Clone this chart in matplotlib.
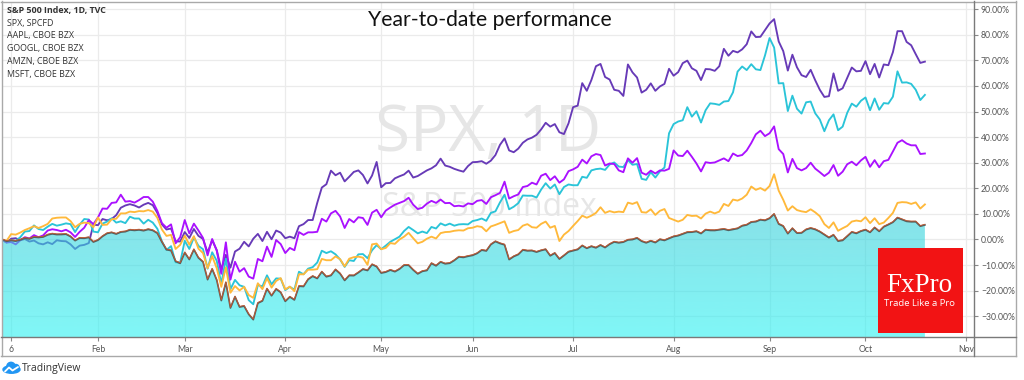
import numpy as np
import matplotlib
matplotlib.use("Agg")
import matplotlib.pyplot as plt
from matplotlib.lines import Line2D
from matplotlib.patches import Rectangle, Circle, Ellipse
import matplotlib.transforms as mtransforms

# ---------------- data (YTD % change, one value per trading day from Jan 2) -------------
spx = [0, -0.71, -0.36, -0.63, -0.15, 0.52, 0.23, 0.93, 0.78, 0.97, 1.81, 2.20, 1.93, 1.96, 2.08, 1.15, -0.44, 0.56, 0.48, 0.79, -0.99,
       -0.27, 1.22, 2.36, 2.70, 2.14, 2.89, 3.07, 3.73, 3.56, 3.75, 3.45, 3.94, 3.54, 2.45, -0.98, -3.98, -4.34, -8.57, -9.32,
       -5.14, -7.81, -3.92, -7.18, -8.76, -15.69, -11.53, -15.85, -23.86, -16.79, -26.76, -22.37, -26.39, -26.04, -29.25, -31.32, -24.88, -24.01, -19.27, -21.99, -19.37, -20.67,
       -24.17, -22.44, -23.61, -18.24, -18.37, -15.59, -14.37, -15.23, -12.64, -14.56, -14.07, -11.77, -13.34, -16.00, -14.07, -14.12, -12.93, -11.64, -12.11, -9.77, -10.60,
       -13.11, -12.74, -11.95, -12.57, -11.56, -10.07, -10.06, -11.90, -13.44, -12.44, -12.10, -9.33, -10.28, -8.79, -9.49, -9.28, -8.17, -6.80, -7.00, -6.55,
       -6.20, -5.43, -4.14, -4.47, -1.96, -0.78, -1.55, -2.08, -7.85, -6.65, -5.87, -4.09, -4.43, -4.37, -4.91, -4.30, -3.88, -6.37, -5.34, -7.64, -6.28, -4.84,
       -4.36, -3.92, -2.40, -3.45, -2.70, -3.25, -2.23, -3.15, -1.85, -0.96, -1.30, -1.02, -0.18, -0.02, 0.56, -0.68, -1.30, -0.57, -1.21, 0.02, -0.36, 0.41,
       1.13, 1.49, 2.15, 2.80, 2.87, 3.15, 2.33, 3.76, 3.55, 3.53, 3.81, 4.05, 3.59, 3.92, 4.28, 5.32, 5.70, 6.78, 6.96, 7.68, 7.44,
       8.25, 9.92, 6.05, 5.19, 2.27, 4.33, 2.50, 2.55, 3.86, 4.40, 3.92, 3.04, 1.89, 0.71, 1.77, -0.64, -0.35, 1.25, 2.88, 2.38, 3.23,
       3.77, 2.78, 4.63, 3.17, 4.96, 5.80, 6.73, 8.48, 7.80, 7.09, 6.92, 6.94, 5.19, 5.69]

aapl = [0, -1.0, -0.2, -0.6, 0.9, 3.1, 3.3, 5.5, 4.1, 3.7, 5.0, 6.1, 5.4, 5.8, 6.3, 6.0, 2.9, 5.8, 8.0, 7.8, 3.1,
        2.8, 6.2, 7.0, 8.3, 6.6, 7.1, 6.4, 8.9, 8.2, 8.2, 6.2, 7.7, 6.6, 4.2, -0.7, -4.1, -2.6, -8.9, -9.0,
        -0.5, -3.7, 0.8, -2.5, -3.8, -11.4, -5.0, -8.3, -17.3, -7.5, -19.4, -15.8, -17.9, -18.5, -23.7, -25.3, -17.8, -18.3, -14.0, -17.5, -15.2, -15.3,
        -19.8, -18.5, -19.6, -12.6, -13.6, -11.4, -10.8, -9.0, -4.4, -5.3, -4.6, -5.8, -7.8, -10.7, -8.1, -8.4, -5.8, -5.7, -7.3, -4.2, -2.2,
        -3.8, -2.4, -0.9, 0.1, 1.1, 3.3, 4.9, 3.7, 2.4, 3.1, 2.5, 4.9, 4.3, 6.3, 5.5, 6.2, 5.4, 5.9, 6.0, 5.9,
        7.2, 7.6, 8.2, 7.3, 10.4, 11.0, 14.5, 17.5, 11.8, 12.8, 14.2, 17.2, 17.1, 17.1, 16.4, 19.5, 22.0, 19.9, 21.5, 17.7, 20.5, 21.5,
        21.2, 21.2, 24.5, 24.1, 27.0, 27.5, 27.7, 27.2, 29.3, 30.1, 28.5, 28.3, 31.0, 29.2, 29.5, 23.7, 23.3, 26.3, 24.2, 26.6, 28.1, 41.5,
        45.1, 46.1, 46.6, 51.7, 48.0, 50.1, 45.7, 50.5, 53.2, 53.0, 52.6, 53.9, 54.1, 57.5, 65.6, 67.6, 66.2, 68.5, 66.5, 66.2, 71.9,
        78.7, 75.0, 61.0, 61.1, 50.2, 56.2, 51.1, 49.2, 53.6, 53.9, 49.3, 46.9, 42.3, 46.6, 48.9, 42.7, 44.1, 49.5, 53.1, 51.9, 54.2,
        55.5, 50.5, 55.1, 50.7, 53.3, 53.1, 55.8, 65.7, 61.3, 61.4, 60.8, 58.5, 54.5, 56.5]

googl = [0, -0.5, 2.1, 1.9, 2.7, 3.7, 4.4, 5.2, 4.5, 5.2, 6.1, 8.2, 8.5, 8.6, 8.6, 7.2, 4.8, 6.1, 6.6, 6.4, 4.8,
         8.6, 5.7, 5.8, 7.9, 8.1, 10.2, 10.2, 10.9, 10.7, 11.1, 11.0, 11.5, 10.9, 8.5, 3.9, 1.4, 1.8, -3.7, -2.1,
         1.5, -2.0, 1.3, -3.6, -5.3, -11.2, -6.5, -11.2, -18.5, -10.9, -20.8, -18.2, -19.9, -18.5, -21.7, -22.8, -17.1, -19.4, -15.1, -18.8, -16.2, -15.1,
         -19.5, -18.4, -20.2, -13.6, -13.6, -11.8, -11.8, -11.6, -7.6, -8.1, -8.1, -6.6, -7.7, -10.5, -7.5, -6.9, -6.7, -7.1, -9.9, -1.9, -1.6,
         -3.8, -3.3, -1.4, -1.7, 0.0, 1.1, 2.6, 0.5, -1.5, -0.9, 0.3, 1.1, 0.4, 2.5, 2.9, 3.0, 3.4, 3.6, 3.5, 4.4,
         4.6, 5.2, 4.9, 3.2, 5.1, 5.7, 6.4, 7.1, 2.6, 3.3, 3.7, 5.4, 6.0, 4.8, 4.6, 6.1, 7.0, 4.6, 5.3, -0.6, 1.9, 3.3,
         5.3, 7.2, 9.3, 8.5, 9.3, 10.4, 12.6, 10.4, 11.1, 10.6, 10.9, 10.7, 14.4, 13.9, 14.6, 10.7, 10.5, 11.8, 9.6, 11.2, 11.9, 8.4,
         7.7, 7.0, 7.7, 9.6, 9.2, 9.3, 8.2, 10.1, 10.9, 10.2, 10.9, 13.9, 13.1, 15.6, 15.2, 16.0, 17.5, 20.7, 19.4, 20.1, 19.1,
         20.9, 25.5, 19.1, 15.5, 11.3, 13.0, 11.5, 11.0, 10.7, 11.8, 10.6, 9.1, 6.0, 4.5, 6.7, 3.4, 4.4, 5.3, 7.0, 7.4, 7.1,
         8.7, 6.4, 8.3, 6.0, 6.6, 8.4, 10.4, 14.3, 14.6, 14.5, 13.9, 14.5, 12.1, 13.7]

amzn = [0, -1.2, 0.3, 0.5, -0.3, 0.2, -0.8, -0.4, -1.5, -1.9, -1.1, -1.8, -0.3, -0.6, -0.7, -1.9, -3.7, -2.4, -2.1, -1.4, 5.8,
        5.6, 8.0, 7.5, 8.0, 9.5, 12.4, 13.3, 13.8, 13.3, 12.5, 13.6, 14.3, 13.4, 10.4, 5.9, 3.9, 4.3, -0.7, -0.8,
        2.9, 0.6, 4.1, 1.4, 0.2, -5.1, -0.3, -4.1, -11.7, -6.0, -11.0, -4.7, -3.6, -0.9, -2.7, 0.3, 2.2, -0.6, 3.0, 0.1, 3.5, 2.7,
        0.5, 1.1, 0.5, 5.2, 6.0, 7.6, 7.6, 14.3, 20.3, 21.6, 26.9, 25.1, 26.1, 22.7, 24.5, 26.4, 27.0, 25.2, 21.9, 25.0, 30.3,
        20.4, 22.0, 22.1, 23.9, 24.7, 25.4, 26.9, 24.2, 24.8, 25.9, 27.0, 27.8, 29.0, 31.6, 28.9, 28.4, 27.6, 27.0, 26.5, 28.7,
        30.2, 30.3, 30.6, 29.6, 30.8, 33.0, 37.0, 39.5, 34.8, 34.1, 35.5, 37.8, 39.1, 39.8, 40.9, 43.0, 45.6, 44.1, 45.1, 41.9, 41.2, 45.4,
        51.7, 52.3, 61.1, 58.1, 62.3, 67.7, 68.6, 63.5, 62.5, 58.5, 58.1, 56.1, 68.4, 65.3, 63.3, 57.4, 58.5, 61.0, 58.1, 59.8, 60.8, 66.7,
        64.0, 65.4, 68.9, 69.9, 66.9, 65.9, 62.3, 66.6, 66.5, 65.9, 67.7, 74.5, 71.8, 73.7, 73.1, 74.3, 76.3, 81.3, 79.1, 79.2, 81.8,
        84.4, 86.1, 77.4, 73.6, 66.0, 72.2, 67.3, 64.2, 63.5, 66.3, 62.2, 58.5, 55.7, 56.0, 64.9, 58.1, 59.1, 63.1, 67.2, 65.7, 65.9,
        69.7, 64.6, 68.6, 63.3, 68.4, 68.1, 73.2, 81.4, 81.4, 77.2, 75.9, 72.4, 69.0, 69.5]

msft = [0, -1.2, -1.0, -1.9, -0.3, 0.9, 0.4, 1.7, 0.9, 1.6, 3.5, 4.0, 3.7, 3.2, 3.8, 2.8, 1.0, 3.0, 4.6, 7.6, 6.0,
        8.6, 12.1, 12.0, 14.3, 14.5, 17.5, 14.8, 15.0, 14.4, 15.4, 16.6, 16.6, 14.8, 11.2, 6.4, 4.6, 5.9, -1.5, 0.9,
        7.6, 2.4, 6.2, 3.5, 0.6, -6.2, 0.2, -4.4, -13.4, -1.1, -15.7, -8.7, -12.6, -11.2, -14.5, -15.3, -7.6, -8.5, -2.8, -6.8, -0.2, -1.8,
        -5.3, -3.3, -4.2, 2.9, 1.8, 2.8, 2.8, 3.0, 8.1, 7.0, 10.2, 11.2, 9.0, 4.5, 8.0, 6.7, 8.7, 8.4, 5.7, 10.5, 11.6,
        8.7, 11.3, 12.5, 13.6, 14.3, 15.0, 16.3, 13.6, 11.9, 12.4, 14.0, 15.1, 14.3, 15.6, 14.2, 14.3, 13.0, 13.2, 12.9, 14.1,
        13.8, 15.1, 15.4, 13.9, 16.5, 17.3, 18.2, 22.6, 16.0, 16.9, 17.6, 20.5, 20.9, 22.2, 21.5, 24.9, 25.7, 23.2, 24.7, 22.2, 23.5, 26.7,
        27.4, 28.4, 31.2, 29.7, 32.5, 33.4, 33.0, 28.9, 29.7, 29.5, 27.0, 26.3, 31.7, 30.0, 31.8, 26.1, 25.3, 26.9, 25.8, 27.0, 26.9, 27.6,
        34.8, 32.8, 32.6, 34.7, 32.3, 29.7, 26.6, 30.2, 29.9, 30.1, 30.9, 31.7, 30.6, 33.6, 32.6, 33.0, 34.8, 37.7, 41.1, 42.5, 40.4,
        41.5, 44.2, 35.3, 33.4, 26.2, 31.5, 27.9, 27.0, 27.9, 30.0, 27.7, 26.3, 24.8, 26.1, 29.1, 24.9, 26.5, 29.4, 30.4, 29.0, 30.9,
        32.3, 28.4, 31.0, 28.2, 30.6, 31.1, 34.4, 37.8, 38.8, 37.5, 36.8, 36.8, 33.4, 33.6]

# month ticks (trading-day index of first session of each month)
tick_pos = [2, 21, 40, 62, 83, 103, 125, 147, 168, 189, 211]
tick_lab = ["6", "Feb", "Mar", "Apr", "May", "Jun", "Jul", "Aug", "Sep", "Oct", "Nov"]
y_ticks = list(range(-30, 91, 10))

legend_lines = ["S&P 500 Index, 1D, TVC", "SPX, SPCFD", "AAPL, CBOE BZX",
                "GOOGL, CBOE BZX", "AMZN, CBOE BZX", "MSFT, CBOE BZX"]

# ---------------- figure ----------------
W, H = 1024, 380
fig = plt.figure(figsize=(W / 100, H / 100), dpi=100)
fig.patch.set_facecolor("white")


def fx(px):
    return px / W


def fy(py):
    return 1 - py / H


L, R, T, B = 2, 974, 2, 337
ax = fig.add_axes([fx(L), fy(B), fx(R) - fx(L), fy(T) - fy(B)])
ax.set_facecolor("white")
XMIN, XMAX = 0.0, 212.75
YMIN, YMAX = -38.1, 92.8
ax.set_xlim(XMIN, XMAX)
ax.set_ylim(YMIN, YMAX)

x = np.arange(len(spx))

# grid
for v in y_ticks:
    ax.axhline(v, color="#ebebeb", lw=0.9, zorder=0)
for p in tick_pos:
    ax.axvline(p, color="#ebebeb", lw=0.9, zorder=0)

# watermark
ax.text(fx(488), fy(134), "SPX, 1D", transform=fig.transFigure, ha="center", va="center",
        fontsize=46, family="Open Sans", color="#e6e6e6", zorder=1)
ax.text(fx(489), fy(208), "S&P 500 Index", transform=fig.transFigure, ha="center", va="center",
        fontsize=23, family="Open Sans", color="#e6e6e6", zorder=1)

# compare lines
lw = 1.35
ax.plot(x, amzn, color="#673AB7", lw=lw, zorder=2, solid_joinstyle="round")
ax.plot(x, aapl, color="#2AC4D8", lw=lw, zorder=2, solid_joinstyle="round")
ax.plot(x, msft, color="#AA11FF", lw=lw, zorder=2, solid_joinstyle="round")
ax.plot(x, googl, color="#FFB93B", lw=lw, zorder=2, solid_joinstyle="round")

# area with vertical gradient
poly = ax.fill_between(x, spx, YMIN, facecolor="none", edgecolor="none")
n = 256
t = np.linspace(0, 1, n)[:, None]
c_bot = np.array([43, 242, 242]) / 255.0
c_top = np.array([57, 205, 216]) / 255.0
grad = np.zeros((n, 1, 4))
grad[:, 0, :3] = c_bot + (c_top - c_bot) * t
grad[:, 0, 3] = 0.6
im = ax.imshow(grad, extent=[XMIN, XMAX, YMIN, 12], origin="lower", aspect="auto",
               zorder=3, interpolation="bilinear")
im.set_clip_path(poly.get_paths()[0], transform=ax.transData)
ax.set_xlim(XMIN, XMAX)
ax.set_ylim(YMIN, YMAX)

ax.plot(x, spx, color="#56605f", lw=1.25, zorder=4, solid_joinstyle="round")
off = mtransforms.offset_copy(ax.transData, fig=fig, x=0, y=0.5, units="points")
ax.plot(x, spx, color="#C8582E", lw=0.6, zorder=5, transform=off, solid_joinstyle="round")

# axes ticks
for s in ax.spines.values():
    s.set_visible(False)
ax.yaxis.set_ticks_position("right")
ax.set_yticks(y_ticks)
ax.set_yticklabels([f"{v:.2f}%".replace("-", "\u2212") for v in y_ticks])
ax.tick_params(axis="y", direction="out", length=3, width=0.8, color="#888888",
               labelsize=6.2, labelcolor="#555555", pad=2)
ax.set_xticks(tick_pos)
ax.set_xticklabels(tick_lab)
ax.tick_params(axis="x", direction="out", length=3, width=0.8, color="#888888",
               labelsize=6.2, labelcolor="#555555", pad=3)
for lab in ax.get_xticklabels() + ax.get_yticklabels():
    lab.set_family("Lato")

# borders
def hline(y, x0, x1, c, lw_=1.0):
    fig.add_artist(Line2D([fx(x0), fx(x1)], [fy(y), fy(y)], color=c, lw=lw_, transform=fig.transFigure))


def vline(xp, y0, y1, c, lw_=1.0):
    fig.add_artist(Line2D([fx(xp), fx(xp)], [fy(y0), fy(y1)], color=c, lw=lw_, transform=fig.transFigure))


hline(1.5, 1, 1015.5, "#a9a9a9")
hline(356, 1, 1015.5, "#a9a9a9")
vline(1.5, 1, 356, "#a9a9a9")
vline(1015.5, 1, 356, "#a9a9a9")
hline(337, 1, 1015.5, "#7a7a7a")
vline(974, 1, 356, "#7a7a7a")

# title
fig.text(fx(490), fy(20), "Year-to-date performance", ha="center", va="center",
         fontsize=15.2, family="Lato", color="#111111")

# legend text
for i, s in enumerate(legend_lines):
    fig.text(fx(7), fy(10.5 + 12.7 * i), s, ha="left", va="center", fontsize=6.4,
             family="Open Sans", color="#333333", fontweight="bold" if i == 0 else "normal")

# FxPro box
fig.add_artist(Rectangle((fx(878), fy(333)), fx(963) - fx(878), fy(248) - fy(333),
                         transform=fig.transFigure, facecolor="#F21314", edgecolor="none", zorder=10))
fig.text(fx(919), fy(286), "FxPro", ha="center", va="center", fontsize=19.5,
         family="Liberation Serif", color="white", zorder=11)
fig.text(fx(919), fy(303), "Trade Like a Pro", ha="center", va="center", fontsize=6.8,
         family="Open Sans", color="white", zorder=11)

# TradingView logo
lax = fig.add_axes([fx(2), fy(376), fx(21) - fx(2), fy(361) - fy(376)])
lax.set_xlim(0, 19)
lax.set_ylim(0, 15)
lax.set_aspect("equal")
lax.axis("off")
lax.add_patch(Ellipse((9.5, 6.5), 17, 7.5, color="#2196F3"))
lax.add_patch(Circle((9, 9.5), 4.2, color="#2196F3"))
lax.add_patch(Circle((14, 8.5), 3.0, color="#2196F3"))
lax.plot([3, 7, 10.5, 16], [4.5, 8.5, 5.5, 9.0], color="white", lw=1.3, solid_capstyle="round")
fig.text(fx(22), fy(368), "TradingView", ha="left", va="center", fontsize=7.5,
         family="Open Sans", color="#333333")

fig.savefig("out.png", dpi=100, facecolor="white")
